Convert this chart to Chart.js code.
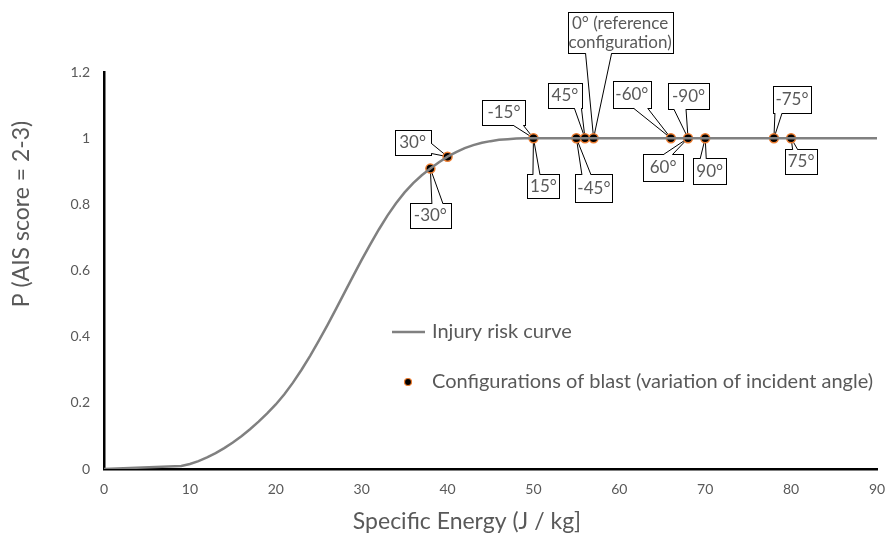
<!DOCTYPE html>
<html><head><meta charset="utf-8">
<script src="https://cdn.jsdelivr.net/npm/chart.js@4/dist/chart.umd.min.js"></script>
<style>html,body{margin:0;padding:0;background:#fff}canvas{display:block}</style>
</head><body>
<canvas id="c" width="887" height="544"></canvas>
<script>
// ---- data ----
const energy      = [0, 9, 10, 11, 12, 13, 14, 15, 16, 17, 18, 19, 20, 21, 22, 23, 24, 25, 26, 27, 28, 29, 30, 31, 32, 33, 34, 35, 36, 37, 38, 39, 40, 41, 42, 43, 44, 45, 46, 47, 48, 49, 50, 90];
const probability = [0, 0.009, 0.015, 0.024, 0.035, 0.048, 0.063, 0.080, 0.099, 0.120, 0.143, 0.168, 0.195, 0.226, 0.261, 0.300, 0.342, 0.387, 0.434, 0.483, 0.533, 0.583, 0.632, 0.679, 0.724, 0.766, 0.803, 0.836, 0.864, 0.888, 0.908, 0.927, 0.944, 0.958, 0.970, 0.979, 0.986, 0.991, 0.995, 0.997, 0.999, 1, 1, 1];
const configEnergy      = [38, 40, 50, 55, 56, 57, 66, 68, 70, 78, 80];
const configProbability = [0.908, 0.944, 1, 1, 1, 1, 1, 1, 1, 1, 1];
const angleLabels     = ['-30°', '30°', '-15°', '15°', '-45°', '45°', '0° (reference\nconfiguration)', '-60°', '-90°', '60°', '90°', '-75°', '75°'];
const labelPointIndex = [0, 1, 2, 2, 3, 4, 5, 6, 7, 7, 8, 9, 10];
const seriesNames = ['Injury risk curve', 'Configurations of blast (variation of incident angle)'];
const xTitle = 'Specific Energy (J / kg]';
const yTitle = 'P (AIS score = 2-3)';

// ---- callout styling (box offsets from the point, in px) ----
const calloutStyle = [
  {dx: 0,    dy: 47,    w: 41,  h: 25, side: 'top',    bx: 7,     bw: 11},
  {dx: -35,  dy: -14.5, w: 36,  h: 25, side: 'right',               bw: 10},
  {dx: -29.5,dy: -25.5, w: 43,  h: 25, side: 'bottom',              bw: 10},
  {dx: 10,   dy: 48,    w: 32,  h: 24, side: 'top',    bx: -7,    bw: 7},
  {dx: 17.5, dy: 50,    w: 37,  h: 28, side: 'top',    bx: -7.5,  bw: 9},
  {dx: -20,  dy: -42.5, w: 34,  h: 25, side: 'bottom', bx: 13,    bw: 7},
  {dx: 26.5, dy: -105.5,w: 105, h: 41, side: 'bottom', bx: -21.5, bw: 26},
  {dx: -39,  dy: -43.5, w: 38,  h: 27, side: 'bottom', bx: 9,     bw: 14},
  {dx: 0.5,  dy: -42,   w: 41,  h: 26, side: 'bottom', bx: -8.5,  bw: 12},
  {dx: -25,  dy: 29.5,  w: 40,  h: 27, side: 'top',    bx: 5,     bw: 9},
  {dx: 4.5,  dy: 33,    w: 33,  h: 26, side: 'top',    bx: -6.5,  bw: 6},
  {dx: 18,   dy: -38.5, w: 38,  h: 27, side: 'bottom', bx: -13.5, bw: 7},
  {dx: 10,   dy: 23.5,  w: 32,  h: 25, side: 'top',    bx: -6,    bw: 5}
];

const FONT = 'Lato, "Open Sans", sans-serif';
const TEXT = '#595959';
const CURVE = '#808080';
const ORANGE = '#ED7D31';

const calloutPlugin = {
  id: 'callouts',
  beforeDatasetsDraw(chart) {
    const ctx = chart.ctx;
    const pts = chart.getDatasetMeta(1).data;
    ctx.save();
    angleLabels.forEach((label, i) => {
      const tip = pts[labelPointIndex[i]];
      const c = calloutStyle[i];
      const cx = tip.x + c.dx, cy = tip.y + c.dy;
      const l = Math.round(cx - c.w / 2) + 0.5, t = Math.round(cy - c.h / 2) + 0.5;
      const r = l + c.w, b = t + c.h;
      ctx.lineWidth = 1;
      ctx.strokeStyle = '#000';
      ctx.fillStyle = '#fff';
      ctx.fillRect(l, t, c.w, c.h);
      ctx.strokeRect(l, t, c.w, c.h);
      let p1, p2;
      if (c.side === 'top' || c.side === 'bottom') {
        const ey = c.side === 'top' ? t : b;
        const bx = c.bx !== undefined ? cx + c.bx : Math.min(Math.max(tip.x, l + c.bw / 2 + 2), r - c.bw / 2 - 2);
        p1 = {x: bx - c.bw / 2, y: ey}; p2 = {x: bx + c.bw / 2, y: ey};
        ctx.fillRect(p1.x + 0.5, ey - 1.5, c.bw - 1, 3);
      } else {
        const ex = c.side === 'left' ? l : r;
        const by = c.by !== undefined ? cy + c.by : Math.min(Math.max(tip.y, t + c.bw / 2 + 2), b - c.bw / 2 - 2);
        p1 = {x: ex, y: by - c.bw / 2}; p2 = {x: ex, y: by + c.bw / 2};
        ctx.fillRect(ex - 1.5, p1.y + 0.5, 3, c.bw - 1);
      }
      ctx.beginPath();
      ctx.moveTo(p1.x, p1.y); ctx.lineTo(tip.x, tip.y); ctx.lineTo(p2.x, p2.y);
      ctx.closePath();
      ctx.fill();
      ctx.beginPath();
      ctx.moveTo(p1.x, p1.y); ctx.lineTo(tip.x, tip.y);
      ctx.moveTo(p2.x, p2.y); ctx.lineTo(tip.x, tip.y);
      ctx.stroke();
      ctx.fillStyle = TEXT;
      ctx.font = '17px ' + FONT;
      ctx.textAlign = 'center';
      ctx.textBaseline = 'middle';
      const lines = label.split('\n');
      const lh = 19;
      lines.forEach((ln, k) => {
        ctx.fillText(ln, cx, cy + (k - (lines.length - 1) / 2) * lh);
      });
    });
    ctx.restore();
  }
};

const legendPlugin = {
  id: 'insideLegend',
  afterDraw(chart) {
    const ctx = chart.ctx;
    ctx.save();
    ctx.font = '20px ' + FONT;
    ctx.fillStyle = TEXT;
    ctx.textAlign = 'left';
    ctx.textBaseline = 'middle';
    const y1 = 332, y2 = 382;
    ctx.strokeStyle = CURVE; ctx.lineWidth = 2.5;
    ctx.beginPath(); ctx.moveTo(392, y1); ctx.lineTo(425, y1); ctx.stroke();
    ctx.fillText(seriesNames[0], 432, y1);
    ctx.beginPath(); ctx.arc(408, y2, 3.5, 0, Math.PI * 2);
    ctx.fillStyle = '#000'; ctx.fill();
    ctx.strokeStyle = ORANGE; ctx.lineWidth = 1.2; ctx.stroke();
    ctx.fillStyle = TEXT;
    ctx.fillText(seriesNames[1], 432, y2);
    ctx.restore();
  }
};

const titlePlugin = {
  id: 'axisTitles',
  afterDraw(chart) {
    const ctx = chart.ctx;
    ctx.save();
    ctx.font = '23px ' + FONT;
    ctx.fillStyle = TEXT;
    ctx.textAlign = 'center';
    ctx.textBaseline = 'middle';
    ctx.fillText(xTitle, 467, 522);
    ctx.translate(22, 214);
    ctx.rotate(-Math.PI / 2);
    ctx.fillText(yTitle, 0, 0);
    ctx.restore();
  }
};

new Chart(document.getElementById('c'), {
  type: 'scatter',
  data: {
    datasets: [
      {
        label: seriesNames[0],
        data: energy.map((x, i) => ({x, y: probability[i]})),
        showLine: true,
        borderColor: CURVE,
        borderWidth: 2.5,
        pointRadius: 0,
        tension: 0
      },
      {
        label: seriesNames[1],
        data: configEnergy.map((x, i) => ({x, y: configProbability[i]})),
        backgroundColor: '#000',
        borderColor: ORANGE,
        borderWidth: 1.5,
        pointRadius: 4.5
      }
    ]
  },
  options: {
    responsive: false,
    animation: false,
    devicePixelRatio: 1,
    layout: {padding: {left: 0, right: 0, top: 72, bottom: 0}},
    plugins: {legend: {display: false}, tooltip: {enabled: false}},
    scales: {
      x: {
        type: 'linear', min: 0, max: 90,
        afterFit: s => { s.height = 75; s.paddingRight = 10; s.paddingLeft = 0; },
        ticks: {stepSize: 10, color: TEXT, font: {family: FONT, size: 14}, padding: 12, maxRotation: 0},
        grid: {display: false, drawTicks: false},
        border: {color: '#000', width: 2.5},
        title: {display: false}
      },
      y: {
        type: 'linear', min: 0, max: 1.2,
        afterFit: s => { s.width = 104; },
        ticks: {stepSize: 0.2, color: TEXT, font: {family: FONT, size: 14}, padding: 14,
          callback: v => String(Number(v.toFixed(2)))},
        grid: {display: false, drawTicks: false},
        border: {color: '#000', width: 2.5},
        title: {display: false}
      }
    }
  },
  plugins: [calloutPlugin, legendPlugin, titlePlugin]
});
</script>
</body></html>
